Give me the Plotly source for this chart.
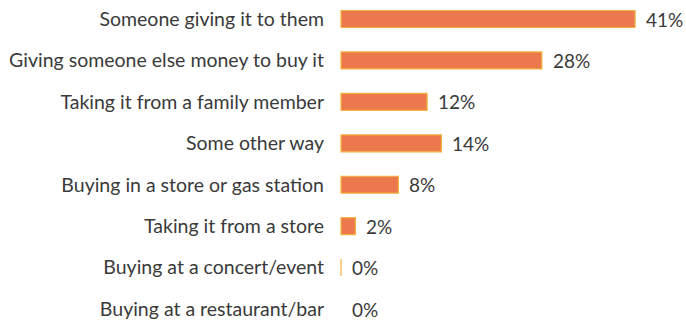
import plotly.graph_objects as go

categories = [
    "Someone giving it to them",
    "Giving someone else money to buy it",
    "Taking it from a family member",
    "Some other way",
    "Buying in a store or gas station",
    "Taking it from a store",
    "Buying at a concert/event",
    "Buying at a restaurant/bar",
]
values = [41, 28, 12, 14, 8, 2, 0, 0]
value_labels = ["41%", "28%", "12%", "14%", "8%", "2%", "0%", "0%"]

ypos = list(range(len(categories)))
text_color = "#3a3a3a"
font_family = "Lato, 'Open Sans', sans-serif"
edge_widths = [1.2] * 7 + [0]

fig = go.Figure(
    go.Bar(
        x=values,
        y=ypos,
        orientation="h",
        width=0.41,
        marker=dict(color="#EC794D", line=dict(color="#F4B23E", width=edge_widths)),
        hoverinfo="skip",
    )
)

for v, y, lab in zip(values, ypos, value_labels):
    fig.add_annotation(
        x=v, y=y, text=lab, showarrow=False, xanchor="left", yanchor="middle",
        xshift=9, font=dict(family=font_family, size=19, color=text_color),
    )

fig.update_layout(
    width=686, height=324,
    margin=dict(l=335, r=0, t=0, b=0),
    paper_bgcolor="white", plot_bgcolor="white",
    showlegend=False,
    xaxis=dict(range=[-0.84, 48.1], visible=False, fixedrange=True),
    yaxis=dict(
        range=[7.362, -0.459],
        tickvals=ypos, ticktext=categories,
        showgrid=False, zeroline=False, showline=False, ticks="",
        ticklabelstandoff=10,
        tickfont=dict(family=font_family, size=19.5, color=text_color),
    ),
)

fig.write_html("out.html")
